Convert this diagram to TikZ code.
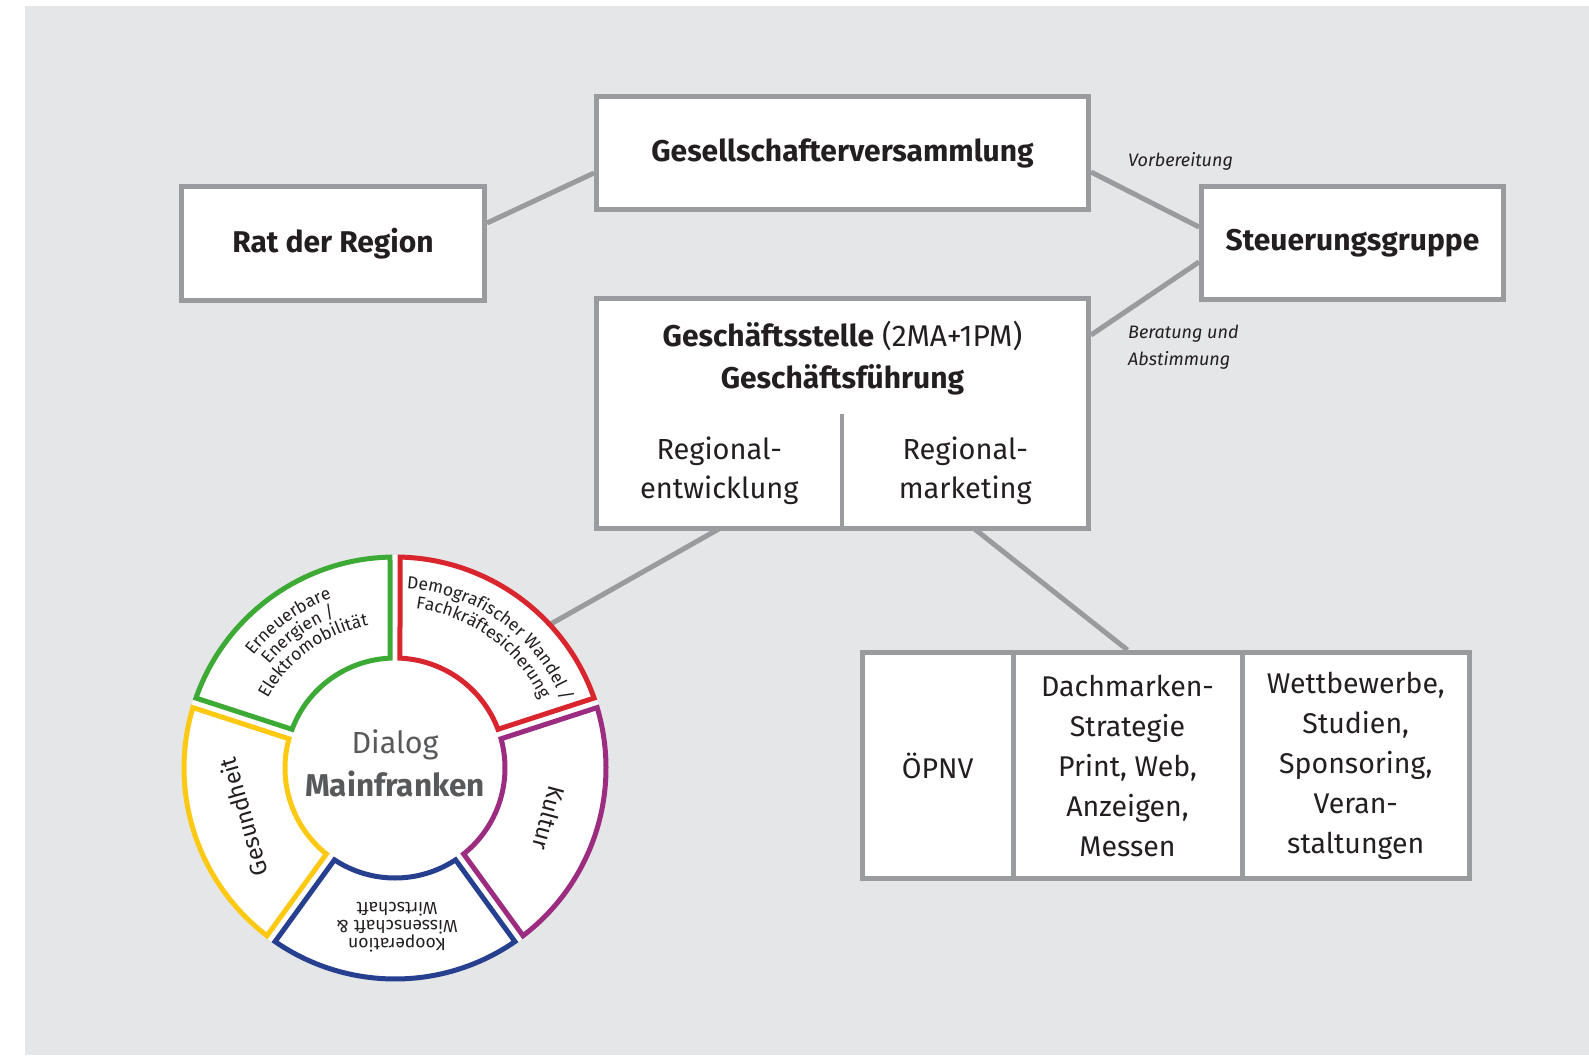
\documentclass[tikz,border=0pt]{standalone}
\usepackage{fontspec}
\setmainfont{Fira Sans}
\usetikzlibrary{decorations.text,calc}
\definecolor{bg}{HTML}{E5E6E8}
\definecolor{boxgray}{HTML}{9A9B9E}
\definecolor{txt}{HTML}{231F20}
\definecolor{dlgc}{HTML}{58595B}
\definecolor{sgreen}{HTML}{3DAA35}
\definecolor{sred}{HTML}{D9252D}
\definecolor{spurple}{HTML}{9B2C7F}
\definecolor{sblue}{HTML}{273F8F}
\definecolor{syellow}{HTML}{FDC912}
\newcommand\fbig{\fontsize{30}{34}\selectfont\bfseries}
\newcommand\fgs{\fontsize{30}{42}\selectfont}
\newcommand\fre{\fontsize{29}{39}\selectfont}
\newcommand\flow{\fontsize{28.5}{40}\selectfont}
\newcommand\fital{\fontsize{18}{27}\selectfont\itshape}
\newcommand\fseg{\fontsize{17.5}{18}\selectfont}
\newcommand\fsegbig{\fontsize{23.5}{28}\selectfont}
\newcommand\ringseg[3]{%
  \draw[seg, draw=#1] ([shift={(#2+1.36:211)}]C) arc[start angle=#2+1.36, end angle=#3-1.36, radius=211]
    -- ([shift={(#3-2.6:110)}]C) arc[start angle=#3-2.6, end angle=#2+2.6, radius=110] -- cycle;}
\newcommand\arctext[3]{% radius, mid angle, text
  \path[decorate, decoration={text along path, text align=center,
      text={|\fseg\color{txt}|#3}}]
    ([shift={(#2+60:#1)}]C) arc[start angle=#2+60, end angle=#2-60, radius=#1];}
\begin{document}
\begin{tikzpicture}[x=1pt,y=1pt,
  box/.style={draw=boxgray, line width=5pt, fill=white, inner sep=0pt, text=txt, align=center},
  conn/.style={draw=boxgray, line width=5pt},
  seg/.style={line width=5pt, fill=white},
  lbl/.style={text=txt, inner sep=0pt}]
\useasboundingbox (0,0) rectangle (1589,-1055);
\fill[bg] (25,-6) rectangle (1589,-1055);

% boxes
\node[box, minimum width=303pt, minimum height=114pt, font=\fbig] (rat) at (333,-243.5) {Rat der Region};
\node[box, minimum width=492pt, minimum height=113pt, font=\fbig] (gv) at (842.5,-153) {Gesellschafterversammlung};
\node[box, minimum width=302pt, minimum height=113pt, font=\fbig] (sg) at (1352.5,-243) {Steuerungsgruppe};
\node[box, minimum width=492pt, minimum height=230pt] (gs) at (842.5,-413.5) {};
\node[lbl, align=center, font=\fgs] (gst) at (842.5,-358) {\textbf{Geschäftsstelle} (2MA+1PM)\\\textbf{Geschäftsführung}};
\node[lbl, align=center, font=\fre, minimum width=245.5pt, minimum height=114.5pt] (re) at (719.25,-471.25) {Regional-\\entwicklung};
\node[lbl, align=center, font=\fre, minimum width=246.5pt, minimum height=114.5pt] (rm) at (965.25,-471.25) {Regional-\\marketing};
\draw[boxgray, line width=4pt] (re.north east) -- (re.south east);

\node[box, minimum width=150.5pt, minimum height=226pt, font=\flow] (op) at (937.75,-765.5) {ÖPNV};
\node[box, minimum width=229pt, minimum height=226pt, font=\flow] (dm) at (1127.5,-765.5) {Dachmarken-\\Strategie\\Print, Web,\\Anzeigen,\\Messen};
\node[box, minimum width=227.5pt, minimum height=226pt, font=\flow] (wb) at (1355.75,-765.5) {Wettbewerbe,\\Studien,\\Sponsoring,\\Veran-\\staltungen};

% labels
\node[lbl, font=\fital, anchor=base west] (vb) at (1128,-166) {Vorbereitung};
\node[lbl, font=\fital, anchor=north west, align=left] (ba) at (1128,-324.5) {Beratung und\\Abstimmung};

% connectors
\coordinate (C) at (395,-768);
\coordinate (cend) at ([shift={(42.7:213)}]C);
\draw[conn] ([yshift=20.5pt]rat.east) -- ([yshift=-20pt]gv.west);
\draw[conn] ([yshift=-19pt]gv.east) -- ([yshift=16pt]sg.west);
\draw[conn] ([yshift=78.5pt]gs.east) -- ([yshift=-19pt]sg.west);
\draw[conn] ([xshift=9pt]rm.south) -- (dm.north);
\draw[conn] (re.south) -- (cend);

% ring
\fill[white] (C) circle[radius=213];
\ringseg{sgreen}{90}{162}
\ringseg{syellow}{162}{234}
\ringseg{sblue}{234}{306}
\ringseg{spurple}{306}{378}
\ringseg{sred}{18}{90}

\node[align=center, text=dlgc, font=\fontsize{30.5}{43}\selectfont] (dlg) at (395,-763) {Dialog\\\textbf{\fontsize{31.5}{43}\selectfont Mainfranken}};

\arctext{181}{126}{Erneuerbare}
\arctext{163}{126}{Energien /}
\arctext{145}{126}{Elektromobilität}
\arctext{180}{54}{Demografischer Wandel /}
\arctext{161}{54}{Fachkräftesicherung}
\node[lbl, font=\fsegbig, rotate=106] (gh) at (243,-817) {Gesundheit};
\node[lbl, font=\fsegbig, rotate=-105] (ku) at (549,-818) {Kultur};
\node[lbl, font=\fseg, align=center, rotate=180] (ko) at (397,-927) {Kooperation\\Wissenschaft \&\\Wirtschaft};
\end{tikzpicture}
\end{document}
